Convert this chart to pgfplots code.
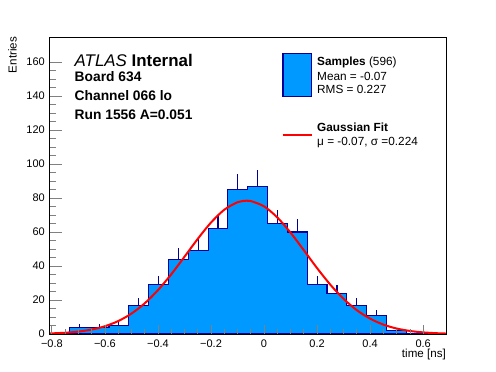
\documentclass[border=0pt]{standalone}
\usepackage{fontspec}
\setmainfont{Liberation Sans}
\usepackage{pgfplots}
\pgfplotsset{compat=1.18}
\definecolor{histfill}{RGB}{0,153,255}
\definecolor{histline}{RGB}{0,0,153}
\newcommand{\fs}[1]{\fontsize{#1}{#1}\selectfont}
\begin{document}
\begin{tikzpicture}
\useasboundingbox (0,0) rectangle (496bp,372bp);
\begin{axis}[
  at={(49.5bp,38bp)}, anchor=south west,
  scale only axis, width=396.5bp, height=296.7bp,
  xmin=-0.809, xmax=0.686, ymin=0, ymax=174.5,
  axis on top,
  axis line style={line width=0.8bp},
  tick align=inside,
  xtick pos=bottom, ytick pos=left,
  xtick={-0.8,-0.6,-0.4,-0.2,0,0.2,0.4,0.6},
  xticklabels={−0.8,−0.6,−0.4,−0.2,0,0.2,0.4,0.6},
  ytick={0,20,40,60,80,100,120,140,160},
  yticklabels={0,20,40,60,80,100,120,140,160},
  minor x tick num=3, minor y tick num=3,
  major tick length=12bp, minor tick length=6bp,
  xtick style={/pgfplots/major tick length=9bp, line width=0.8bp},
  minor x tick style={/pgfplots/minor tick length=4.5bp},
  ytick style={line width=0.8bp},
  xticklabel style={font=\fs{11bp}, inner sep=0pt, anchor=north, yshift=-5.5bp},
  yticklabel style={font=\fs{11bp}, inner sep=0pt, anchor=east, xshift=-4.5bp},
  xlabel={time [ns]},
  ylabel={Entries},
  xlabel style={font=\fs{11.6bp}, inner sep=0pt, at={(axis description cs:1,0)}, anchor=base east, yshift=-23.8bp},
  ylabel style={font=\fs{11.6bp}, inner sep=0pt, at={(axis description cs:-0.0827,1.002)}, anchor=base east},
  clip=false,
]
% histogram
\addplot[const plot mark left, draw=histline, line width=1.1bp, fill=histfill] coordinates {
(-0.809,0) (-0.7343,4) (-0.6595,4) (-0.5848,5) (-0.51,17) (-0.4353,29)
(-0.3605,44) (-0.2858,49) (-0.211,62) (-0.1363,85) (-0.0615,87) (0.0133,65)
(0.088,60) (0.1628,29) (0.2375,24) (0.3123,17) (0.387,11) (0.4618,2)
(0.5365,0) (0.6113,0) (0.686,0)
} \closedcycle;
% error bars (upward)
\addplot[draw=none, mark=none, forget plot,
  error bars/.cd, y dir=plus, y explicit, error mark=none,
  error bar style={draw=histline, line width=1.1bp}] coordinates {
(-0.6969,4) +- (0,2)
(-0.6221,4) +- (0,2)
(-0.5474,5) +- (0,2.236)
(-0.4726,17) +- (0,4.123)
(-0.3979,29) +- (0,5.385)
(-0.3231,44) +- (0,6.633)
(-0.2484,49) +- (0,7)
(-0.1736,62) +- (0,7.874)
(-0.0989,85) +- (0,9.220)
(-0.0241,87) +- (0,9.327)
(0.0506,65) +- (0,8.062)
(0.1254,60) +- (0,7.746)
(0.2001,29) +- (0,5.385)
(0.2749,24) +- (0,4.899)
(0.3496,17) +- (0,4.123)
(0.4244,11) +- (0,3.317)
(0.4991,2) +- (0,1.414)
};
% gaussian fit
\addplot[red, line width=2bp, smooth, mark=none] coordinates {
(-0.809,0.32) (-0.75,0.74) (-0.7,1.43) (-0.65,2.62) (-0.6,4.57) (-0.55,7.59)
(-0.5,12.00) (-0.45,18.04) (-0.4,25.80) (-0.35,35.10) (-0.3,45.43) (-0.25,55.95)
(-0.2,65.56) (-0.15,73.08) (-0.1,77.50) (-0.066,78.4) (-0.05,78.20) (0,75.07)
(0.05,68.56) (0.1,59.58) (0.15,49.25) (0.2,38.74) (0.25,28.98) (0.3,20.64)
(0.35,13.98) (0.4,9.01) (0.45,5.52) (0.5,3.22) (0.55,1.79) (0.6,0.94)
(0.65,0.47) (0.686,0.28)
};
% text block
\node[anchor=base west, inner sep=0pt, font=\fs{16.9bp}] at (rel axis cs:0.0631,0.9023) {\textit{ATLAS} \textbf{Internal}};
\node[anchor=base west, inner sep=0pt, font=\fs{13.8bp}\bfseries] at (rel axis cs:0.0631,0.8503) {Board 634};
\node[anchor=base west, inner sep=0pt, font=\fs{13.8bp}\bfseries] at (rel axis cs:0.0631,0.7863) {Channel 066 lo};
\node[anchor=base west, inner sep=0pt, font=\fs{13.8bp}\bfseries] at (rel axis cs:0.0631,0.7236) {Run 1556 A=0.051};
% legend
\draw[fill=histfill, draw=histline, line width=1.1bp] (rel axis cs:0.5889,0.7998) rectangle (rel axis cs:0.6612,0.9461);
\draw[red, line width=2bp] (rel axis cs:0.5881,0.6707) -- (rel axis cs:0.6612,0.6707);
\node[anchor=base west, inner sep=0pt, font=\fs{11.8bp}] at (rel axis cs:0.6747,0.9043) {\textbf{Samples} (596)};
\node[anchor=base west, inner sep=0pt, font=\fs{11.8bp}] at (rel axis cs:0.6747,0.8527) {Mean = -0.07};
\node[anchor=base west, inner sep=0pt, font=\fs{11.8bp}] at (rel axis cs:0.6747,0.8113) {RMS = 0.227};
\node[anchor=base west, inner sep=0pt, font=\fs{11.8bp}\bfseries] at (rel axis cs:0.6747,0.6818) {Gaussian Fit};
\node[anchor=base west, inner sep=0pt, font=\fs{11.8bp}] at (rel axis cs:0.6747,0.6370) {μ = -0.07, σ =0.224};
\end{axis}
\end{tikzpicture}
\end{document}
